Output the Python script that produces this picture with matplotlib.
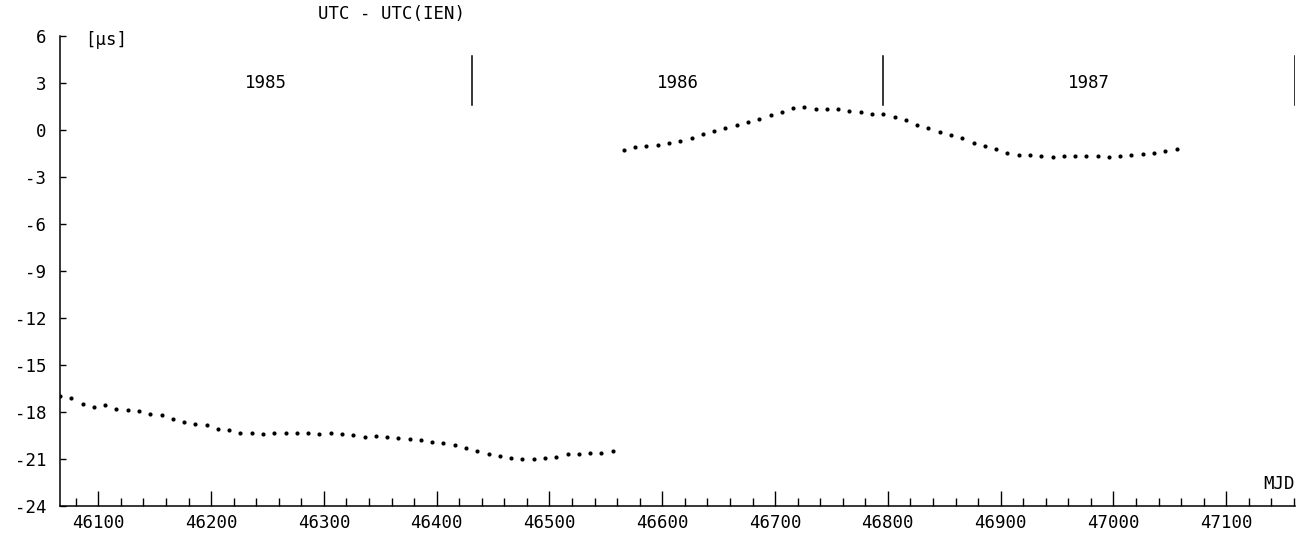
import numpy as np
import matplotlib
matplotlib.use('Agg')
import matplotlib.pyplot as plt
from matplotlib.ticker import MultipleLocator, FixedLocator

font = {'family': 'DejaVu Sans Mono',
        'size': 12.5}
matplotlib.rc('font', **font)
plt.rcParams['axes.unicode_minus'] = False

# MJD sampling (10 day steps) for the two parts of the record
mjd_1985 = list(range(46066, 46557, 10))
mjd_1986 = list(range(46566, 47057, 10))

# UTC - UTC(IEN) in microseconds
utc_1985 = [-16.96, -17.10, -17.47, -17.65, -17.57, -17.80, -17.85, -17.95, -18.11, -18.17,
            -18.43, -18.61, -18.76, -18.85, -19.06, -19.18, -19.31, -19.36, -19.38, -19.32,
            -19.32, -19.33, -19.31, -19.38, -19.37, -19.40, -19.47, -19.58, -19.51, -19.62,
            -19.66, -19.70, -19.79, -19.90, -19.95, -20.13, -20.30, -20.47, -20.66, -20.79,
            -20.92, -21.00, -20.98, -20.92, -20.85, -20.71, -20.68, -20.64, -20.62, -20.49]
utc_1986 = [-1.26, -1.09, -1.00, -0.94, -0.85, -0.73, -0.49, -0.26, -0.06, 0.15,
            0.34, 0.53, 0.72, 0.93, 1.17, 1.38, 1.44, 1.36, 1.34, 1.34,
            1.23, 1.15, 1.04, 1.00, 0.85, 0.61, 0.34, 0.10, -0.13, -0.32,
            -0.54, -0.81, -1.02, -1.21, -1.49, -1.58, -1.58, -1.66, -1.70, -1.66,
            -1.66, -1.64, -1.66, -1.72, -1.68, -1.60, -1.51, -1.45, -1.34, -1.19]

# year boundaries (MJD of 1 January)
years = ['1985', '1986', '1987']
year_start = [46066, 46431, 46796, 47161]

fig = plt.figure(figsize=(13.1, 5.44), dpi=100)
ax = fig.add_axes([60 / 1310, 38 / 544, 1235 / 1310, 470 / 544])

ax.plot(mjd_1985, utc_1985, 'o', color='black', markersize=3.0, markeredgewidth=0)
ax.plot(mjd_1986, utc_1986, 'o', color='black', markersize=3.0, markeredgewidth=0)

for i in range(len(years)):
    mid = (year_start[i] + year_start[i + 1]) / 2
    ax.text(mid, 3, years[i], ha='center', va='center')
    ax.plot([year_start[i + 1], year_start[i + 1]], [1.6, 4.7], color='black', lw=1.1)

ax.set_xlim(year_start[0], year_start[-1])
ax.set_ylim(-24, 6)

ax.xaxis.set_major_locator(MultipleLocator(100))
ax.xaxis.set_minor_locator(FixedLocator(list(range(46080, 47161, 20))))
ax.yaxis.set_major_locator(MultipleLocator(3))

for s in ['top', 'right']:
    ax.spines[s].set_visible(False)
for s in ['left', 'bottom']:
    ax.spines[s].set_linewidth(1.1)

ax.tick_params(axis='x', which='major', direction='in', length=11, width=1.0, pad=6)
ax.tick_params(axis='x', which='minor', direction='in', length=5.5, width=1.0)
ax.tick_params(axis='y', which='major', direction='in', length=4, width=1.0, pad=10)

ax.text(year_start[-1], -22.6, 'MJD', ha='right', va='center')
fig.text(85 / 1310, 1 - 40 / 544, '[µs]', ha='left', va='center')
fig.text(318 / 1310, 1 - 14 / 544, 'UTC - UTC(IEN)', ha='left', va='center')

plt.savefig('out.png', dpi=100)
